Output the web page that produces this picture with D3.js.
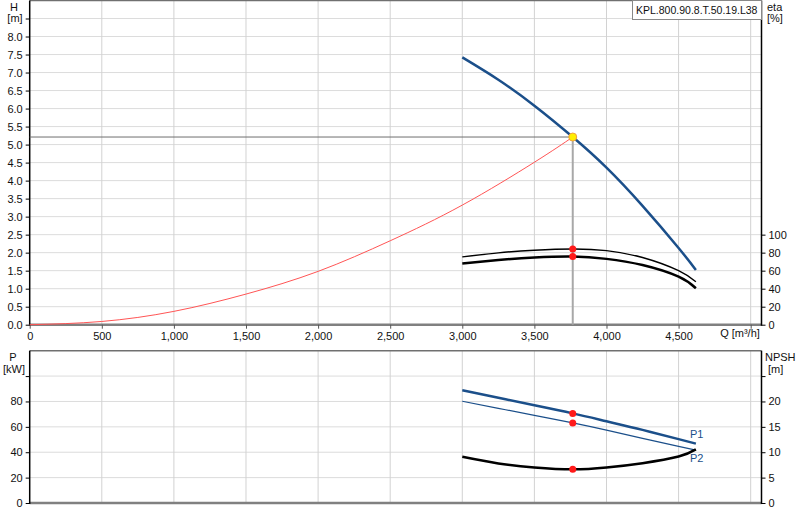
<!DOCTYPE html>
<html>
<head>
<meta charset="utf-8">
<script src="https://cdn.jsdelivr.net/npm/d3@7"></script>
<style>
  body { margin: 0; background: #fff; }
  svg { font-family: "Liberation Sans", Arial, sans-serif; font-size: 11px; }
</style>
</head>
<body>
<div id="chart"></div>
<script>
// pump curve readings
const pumpName = "KPL.800.90.8.T.50.19.L38";
const qCurve = [3000, 3250, 3500, 3766, 4000, 4250, 4500, 4620];
const headValues = [7.42, 6.80, 6.08, 5.21, 4.36, 3.30, 2.13, 1.52];
const etaUpper = [75.3, 79.8, 82.7, 84.1, 82.3, 74.6, 60.0, 47.7];
const etaLower = [68.0, 71.8, 74.6, 75.7, 73.1, 66.2, 53.3, 40.5];
const p1Values = [88.9, 82.9, 77.0, 70.6, 64.4, 57.6, 50.3, 46.8];
const p2Values = [80.2, 74.6, 69.1, 63.1, 57.4, 50.9, 44.6, 41.6];
const npshValues = [9.11, 7.8, 7.0, 6.63, 7.0, 7.85, 9.15, 10.57];

// system curve readings
const qSystem = [0, 500, 1000, 1500, 2000, 2500, 3000, 3500, 3766];
const hSystem = [0, 0.09, 0.37, 0.85, 1.48, 2.33, 3.32, 4.51, 5.21];

// duty point
const dutyQ = 3766;
const dutyH = 5.21;
const dutyEta = [84.1, 75.7];
const dutyP = [70.6, 63.1];
const dutyNpsh = 6.63;

// ticks
const qTicks = [0, 500, 1000, 1500, 2000, 2500, 3000, 3500, 4000, 4500, 5000];
const hTicks = d3.range(0, 8.51, 0.5);
const etaTicks = [0, 20, 40, 60, 80, 100];
const pTicks = [0, 20, 40, 60, 80, 100];
const npshTicks = [0, 5, 10, 15, 20, 25];

const W = 800, H = 520;
const left = 29.7, right = 761.5;
const blue = "#1b4f8a";

const svg = d3.select("#chart").append("svg")
    .attr("width", W)
    .attr("height", H);

const x = d3.scaleLinear().domain([0, 5075]).range([left, right]);
const yH = d3.scaleLinear().domain([0, 9]).range([324.7, 0.5]);
const yEta = d3.scaleLinear().domain([0, 360]).range([324.7, 0.5]);
const yP = d3.scaleLinear().domain([0, 120]).range([503, 350.7]);
const yN = d3.scaleLinear().domain([0, 30]).range([503, 350.7]);

const fmtQ = d3.format(",");

function panel(yScale, ticks, top, bottom){
    let g = svg.append("g");
    // horizontal grid
    g.selectAll("line.h").data(ticks.slice(1)).enter().append("line")
        .attr("x1", left).attr("x2", right)
        .attr("y1", d => yScale(d)).attr("y2", d => yScale(d))
        .attr("stroke", "#dcdcdc");
    // vertical grid
    g.selectAll("line.v").data(qTicks.slice(1)).enter().append("line")
        .attr("x1", d => x(d)).attr("x2", d => x(d))
        .attr("y1", top).attr("y2", bottom)
        .attr("stroke", "#d2d2d2");
    // frame
    g.append("line").attr("x1", left).attr("x2", right).attr("y1", top).attr("y2", top)
        .attr("stroke", "#707070").attr("stroke-width", 1.5);
    g.append("line").attr("x1", left).attr("x2", right).attr("y1", bottom).attr("y2", bottom)
        .attr("stroke", "#808080").attr("stroke-width", 2.5);
    g.append("line").attr("x1", left).attr("x2", left).attr("y1", top).attr("y2", bottom + 1)
        .attr("stroke", "#000").attr("stroke-width", 1.5);
    g.append("line").attr("x1", right).attr("x2", right).attr("y1", top).attr("y2", bottom + 1)
        .attr("stroke", "#000").attr("stroke-width", 1.5);
}

panel(yH, hTicks, 0.5, 324.7);
panel(yP, pTicks, 350.7, 503);

// left H axis
let axH = svg.append("g")
    .attr("transform", "translate(" + left + ",0)")
    .call(d3.axisLeft(yH).tickValues(hTicks).tickSize(4).tickFormat(d => d > 8.01 ? "" : d.toFixed(1)));
// right eta axis
let axEta = svg.append("g")
    .attr("transform", "translate(" + right + ",0)")
    .call(d3.axisRight(yEta).tickValues(etaTicks).tickSize(4));
// left P axis
let axP = svg.append("g")
    .attr("transform", "translate(" + left + ",0)")
    .call(d3.axisLeft(yP).tickValues(pTicks).tickSize(4).tickFormat(d => d >= 100 ? "" : d));
// right NPSH axis
let axN = svg.append("g")
    .attr("transform", "translate(" + right + ",0)")
    .call(d3.axisRight(yN).tickValues(npshTicks).tickSize(4).tickFormat(d => d >= 25 ? "" : d));
// Q axis
let axQ = svg.append("g")
    .attr("transform", "translate(0,324.7)")
    .call(d3.axisBottom(x).tickValues(qTicks).tickSize(4).tickFormat(d => d >= 5000 ? "" : fmtQ(d)));

[axH, axEta, axP, axN, axQ].forEach(function(a){
    a.select(".domain").remove();
    a.selectAll("text").attr("fill", "#111").style("font-size", "11px")
        .style("font-family", "\"Liberation Sans\", Arial, sans-serif");
});
axQ.selectAll(".tick line").attr("stroke", "#555");
axQ.selectAll("text").attr("dy", "0.8em");

// axis titles
function label(txt, tx, ty, anchor, color){
    svg.append("text").text(txt)
        .attr("x", tx).attr("y", ty)
        .attr("text-anchor", anchor || "middle")
        .attr("fill", color || "#111");
}
label("H", 14, 11);
label("[m]", 15, 22);
label("eta", 767, 11, "start");
label("[%]", 767, 22, "start");
label("Q [m³/h]", 740, 337);
label("P", 13, 361);
label("[kW]", 14, 373);
label("NPSH", 765, 361, "start");
label("[m]", 768, 373, "start");

// name box
svg.append("rect")
    .attr("x", 632.5).attr("y", 0.5).attr("width", 129).attr("height", 19)
    .attr("fill", "#fff").attr("stroke", "#888");
svg.append("text").text(pumpName)
    .attr("x", 636).attr("y", 13.5).attr("fill", "#111")
    .style("font-size", "10.5px");

// curves
const lineQ = function(yScale, vals){
    return d3.line()
        .x((d, i) => x(qCurve[i]))
        .y((d, i) => yScale(vals[i]))
        .curve(d3.curveNatural)(vals);
};

function drawPath(d, color, width){
    svg.append("path").attr("d", d)
        .attr("fill", "none").attr("stroke", color)
        .attr("stroke-width", width).attr("stroke-linecap", "butt");
}

// duty lines
svg.append("line")
    .attr("x1", left).attr("x2", x(dutyQ))
    .attr("y1", yH(dutyH)).attr("y2", yH(dutyH))
    .attr("stroke", "#6e6e6e").attr("stroke-width", 1);
svg.append("line")
    .attr("x1", x(dutyQ)).attr("x2", x(dutyQ))
    .attr("y1", yH(dutyH)).attr("y2", 324.7)
    .attr("stroke", "#a8a8a8").attr("stroke-width", 2);

// system curve
drawPath(d3.line()
    .x((d, i) => x(qSystem[i]))
    .y(d => yH(d))
    .curve(d3.curveNatural)(hSystem), "#ff5555", 1);

drawPath(lineQ(yEta, etaUpper), "#000", 1.4);
drawPath(lineQ(yEta, etaLower), "#000", 2.5);
drawPath(lineQ(yH, headValues), blue, 2.5);

drawPath(lineQ(yP, p2Values), blue, 1.2);
drawPath(lineQ(yP, p1Values), blue, 2.5);
drawPath(lineQ(yN, npshValues), "#000", 2.5);

label("P1", 690, 438, "start", blue);
label("P2", 690, 462, "start", blue);

// duty markers
function dot(cy, r, fill, stroke){
    svg.append("circle")
        .attr("cx", x(dutyQ)).attr("cy", cy).attr("r", r)
        .attr("fill", fill).attr("stroke", stroke || "none");
}
dutyEta.forEach(v => dot(yEta(v), 3.5, "#ff1a1a"));
dutyP.forEach(v => dot(yP(v), 3.5, "#ff1a1a"));
dot(yN(dutyNpsh), 3.5, "#ff1a1a");
dot(yH(dutyH), 4, "#ffee00", "#f0a040");
</script>
</body>
</html>
